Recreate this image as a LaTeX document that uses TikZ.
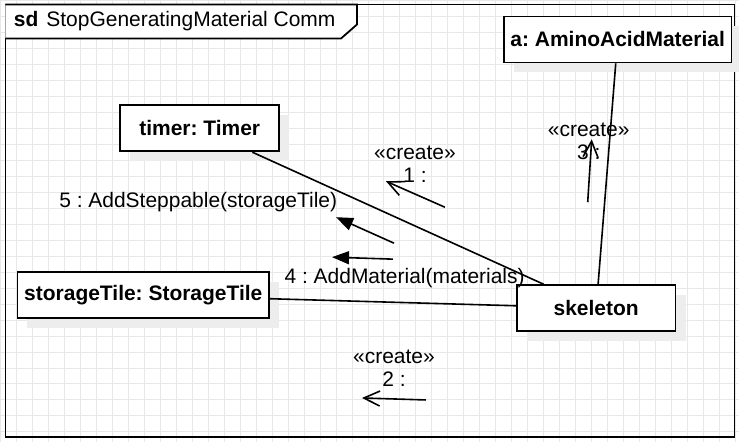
\documentclass[tikz,border=0pt]{standalone}
\usepackage{fontspec}
\setmainfont{Liberation Sans}
\usetikzlibrary{arrows.meta, shadows}
\frenchspacing

\begin{document}
\begin{tikzpicture}[x=0.5pt, y=-0.5pt, thick]
    \tikzstyle{every node}=[font=\fontsize{10.5}{11.5}\selectfont]
    \tikzstyle{object}=[rectangle,
                       draw=black,
                       line width=0.9pt,
                       fill=white,
                       inner sep=0pt,
                       minimum height=23pt,
                       font=\fontsize{10.5}{11.5}\selectfont\bfseries,
                       drop shadow={shadow xshift=5pt, shadow yshift=-5pt, fill=black!7, opacity=1}]
    \tikzstyle{link}=[line width=0.8pt]
    \tikzstyle{callmsg}=[-{Triangle[length=8.5pt,width=6.5pt]}, line width=0.8pt]
    \tikzstyle{createmsg}=[-{Straight Barb[length=8pt,width=7.5pt]}, line width=0.8pt]

    % background and grid
    \fill[white] (0,0) rectangle (739,442);
    \draw[black!9, line width=0.5pt, step=8pt] (0pt,0pt) grid (369.5pt,-221pt);

    % frame
    \draw[line width=0.9pt] (5,4) rectangle (735,437);
    \draw[line width=0.9pt, fill=white] (5,4) -- (357,4) -- (357,24) -- (341,38) -- (5,38);
    \node[anchor=west] (title) at (6,21) {\textbf{sd}\hspace{4pt}StopGeneratingMaterial Comm};

    \node[object, minimum width=114pt]  (amino)    at (618,39)    {a: AminoAcidMaterial};
    \node[object, minimum width=79.5pt] (timer)    at (199.5,128) {timer: Timer};
    \node[object, minimum width=126pt]  (tile)     at (143,295)   {storageTile: StorageTile};
    \node[object, minimum width=79.5pt] (skeleton) at (596.5,308) {skeleton};

    \path[link] (timer) edge (skeleton)
                (amino) edge (skeleton)
                (tile)  edge (skeleton);

    % messages
    \coordinate (m1s) at (445,207); \coordinate (m1e) at (386,181);
    \coordinate (m2s) at (426,400); \coordinate (m2e) at (362,398);
    \coordinate (m3s) at (588,202); \coordinate (m3e) at (592,139);
    \coordinate (m4s) at (393,259); \coordinate (m4e) at (332,257);
    \coordinate (m5s) at (394,243); \coordinate (m5e) at (336,217);

    \draw[createmsg] (m1s) -- (m1e);
    \draw[createmsg] (m2s) -- (m2e);
    \draw[createmsg] (m3s) -- (m3e);
    \draw[callmsg]   (m4s) -- (m4e);
    \draw[callmsg]   (m5s) -- (m5e);

    \node[align=center] (lab1) at (415,163.5) {«create»\\1 :\hspace{7pt}};
    \node[align=center] (lab2) at (394,368)   {«create»\\2 :\hspace{7pt}};
    \node[align=center] (lab3) at (589,141)   {«create»\\3 :\hspace{7pt}};
    \node[anchor=west]  (lab4) at (277,278)   {4 : AddMaterial(materials)};
    \node               (lab5) at (198,202)   {5 : AddSteppable(storageTile)};
\end{tikzpicture}
\end{document}
